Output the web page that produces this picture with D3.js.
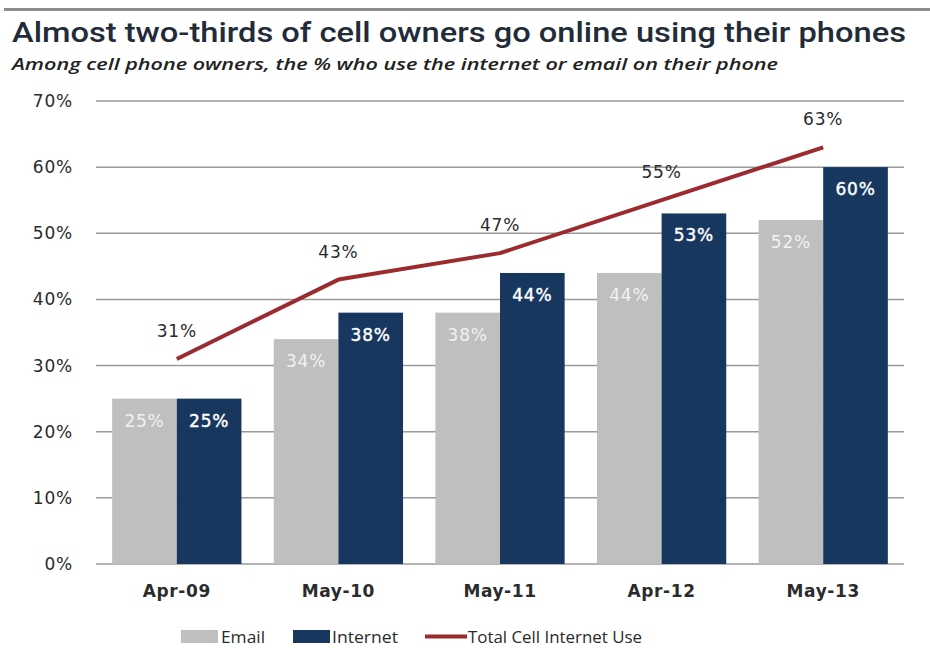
<!DOCTYPE html>
<html>
<head>
<meta charset="utf-8">
<script src="https://cdn.jsdelivr.net/npm/d3@7"></script>
<style>
  html, body { margin: 0; padding: 0; background: #ffffff; }
  svg { display: block; }
</style>
</head>
<body>
<svg id="chart" width="930" height="648"></svg>
<script>
// Survey dates and shares of cell owners
const categories = ["Apr-09", "May-10", "May-11", "Apr-12", "May-13"];
const emailValues = [25, 34, 38, 44, 52];
const internetValues = [25, 38, 44, 53, 60];
const totalValues = [31, 43, 47, 55, 63];
const yTicks = [0, 10, 20, 30, 40, 50, 60, 70];
const seriesNames = ["Email", "Internet"];

const colors = { Email: "#bfbfbf", Internet: "#17375e", total: "#9b2b2f" };
const labelFont = "'DejaVu Sans', Verdana, sans-serif";

const svg = d3.select("#chart");
const W = 930, H = 648;
const plotLeft = 96, plotRight = 904, plotTop = 101, plotBottom = 564;

// Header rule, title and subtitle
svg.append("rect").attr("x", 4).attr("y", 8).attr("width", W - 4).attr("height", 3).attr("fill", "#8c8c8c");

svg.append("text")
  .attr("x", 12).attr("y", 42)
  .attr("font-family", "Roboto, 'Liberation Sans', sans-serif")
  .attr("font-weight", 500)
  .attr("font-size", 27)
  .attr("fill", "#222b38")
  .attr("textLength", 894).attr("lengthAdjust", "spacingAndGlyphs")
  .text("Almost two-thirds of cell owners go online using their phones");

svg.append("text")
  .attr("x", 12).attr("y", 70)
  .attr("font-family", "'Open Sans', 'Liberation Sans', sans-serif")
  .attr("font-style", "italic")
  .attr("font-weight", 600)
  .attr("font-size", 17)
  .attr("fill", "#222")
  .attr("textLength", 766).attr("lengthAdjust", "spacingAndGlyphs")
  .text("Among cell phone owners, the % who use the internet or email on their phone");

// Scales
const x0 = d3.scaleBand().domain(categories).range([plotLeft, plotRight]).paddingInner(0.2).paddingOuter(0.1);
const x1 = d3.scaleBand().domain(seriesNames).range([0, x0.bandwidth()]).padding(0);
const y = d3.scaleLinear().domain([0, 70]).range([plotBottom, plotTop]);

// Gridlines
svg.append("g").selectAll("line").data(yTicks).join("line")
  .attr("x1", plotLeft).attr("x2", plotRight)
  .attr("y1", d => y(d)).attr("y2", d => y(d))
  .attr("stroke", "#9a9a9a").attr("stroke-width", 1.5);

// Y axis labels
const yAxis = d3.axisLeft(y).tickValues(yTicks).tickFormat(d => d + "%").tickSize(0).tickPadding(23);
const ya = svg.append("g").attr("transform", `translate(${plotLeft},0)`).call(yAxis);
ya.select(".domain").remove();
ya.selectAll("text")
  .attr("font-family", labelFont)
  .attr("font-size", 17)
  .attr("letter-spacing", 0.8)
  .attr("fill", "#2a2a2a");

// X axis labels
const xAxis = d3.axisBottom(x0).tickSize(0).tickPadding(21);
const xa = svg.append("g").attr("transform", `translate(0,${plotBottom})`).call(xAxis);
xa.select(".domain").remove();
xa.selectAll("text")
  .attr("font-family", labelFont)
  .attr("font-size", 17)
  .attr("font-weight", "bold")
  .attr("letter-spacing", 0.6)
  .attr("fill", "#2b2b2b");

// Bars
const rows = categories.map((c, i) => ({ cat: c, Email: emailValues[i], Internet: internetValues[i] }));
const groups = svg.append("g").selectAll("g").data(rows).join("g")
  .attr("transform", d => `translate(${x0(d.cat)},0)`);

groups.selectAll("rect").data(d => seriesNames.map(k => ({ key: k, value: d[k] }))).join("rect")
  .attr("x", d => x1(d.key))
  .attr("y", d => y(d.value))
  .attr("width", x1.bandwidth())
  .attr("height", d => y(0) - y(d.value))
  .attr("fill", d => colors[d.key]);

groups.selectAll("text").data(d => seriesNames.map(k => ({ key: k, value: d[k] }))).join("text")
  .attr("x", d => x1(d.key) + x1.bandwidth() / 2)
  .attr("y", d => y(d.value) + 28)
  .attr("text-anchor", "middle")
  .attr("font-family", labelFont)
  .attr("font-size", 17)
  .attr("letter-spacing", 0.8)
  .attr("fill", d => d.key === "Internet" ? "#ffffff" : "#f2f2f2")
  .attr("stroke", d => d.key === "Internet" ? "#ffffff" : "none")
  .attr("stroke-width", 0.4)
  .text(d => d.value + "%");

// Total line
const cx = c => x0(c) + x0.bandwidth() / 2;
const line = d3.line().x((d, i) => cx(categories[i])).y(d => y(d));
svg.append("path").datum(totalValues)
  .attr("d", line)
  .attr("fill", "none")
  .attr("stroke", colors.total)
  .attr("stroke-width", 4)
  .attr("stroke-linejoin", "round");

svg.append("g").selectAll("text").data(totalValues).join("text")
  .attr("x", (d, i) => cx(categories[i]))
  .attr("y", d => y(d) - 22)
  .attr("text-anchor", "middle")
  .attr("font-family", labelFont)
  .attr("font-size", 17)
  .attr("letter-spacing", 0.8)
  .attr("fill", "#2a2a2a")
  .text(d => d + "%");

// Legend
const legend = svg.append("g").attr("font-family", "'Open Sans', 'Liberation Sans', sans-serif").attr("font-size", 17).attr("fill", "#2a2a2a");
legend.append("rect").attr("x", 181).attr("y", 630).attr("width", 37).attr("height", 13).attr("fill", colors.Email);
legend.append("text").attr("x", 221).attr("y", 643).attr("textLength", 44).attr("lengthAdjust", "spacingAndGlyphs").text("Email");
legend.append("rect").attr("x", 293).attr("y", 630).attr("width", 37).attr("height", 13).attr("fill", colors.Internet);
legend.append("text").attr("x", 332).attr("y", 643).attr("textLength", 66).attr("lengthAdjust", "spacingAndGlyphs").text("Internet");
legend.append("line").attr("x1", 425).attr("x2", 467).attr("y1", 636.5).attr("y2", 636.5).attr("stroke", colors.total).attr("stroke-width", 4);
legend.append("text").attr("x", 468).attr("y", 643).attr("textLength", 174).attr("lengthAdjust", "spacingAndGlyphs").text("Total Cell Internet Use");
</script>
</body>
</html>
